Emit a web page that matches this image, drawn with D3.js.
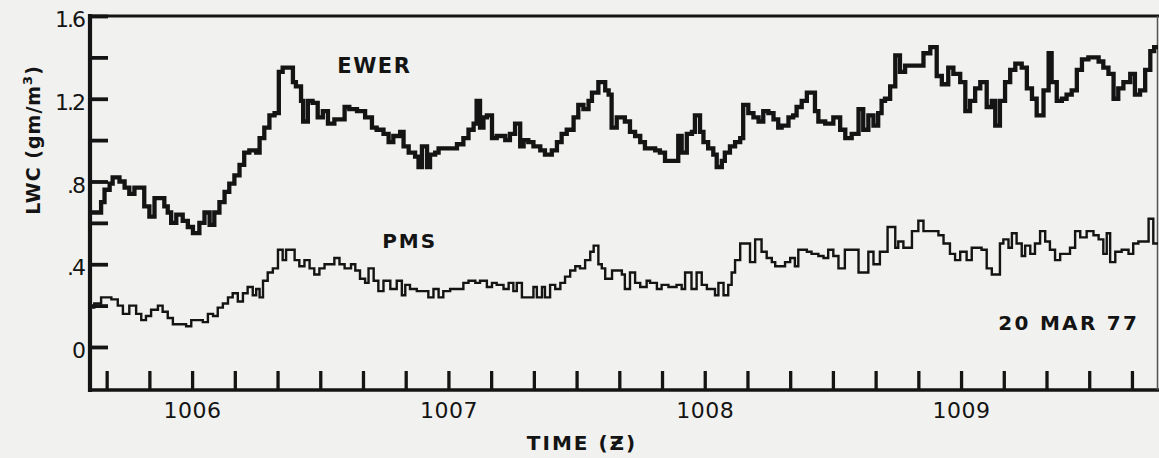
<!DOCTYPE html>
<html><head><meta charset="utf-8">
<script src="https://cdn.jsdelivr.net/npm/d3@7"></script>
<style>
html,body{margin:0;padding:0;background:#f1f1ef;}
svg{display:block;}
</style>
</head><body>
<svg id="chart" width="1159" height="458"></svg>
<script>
// time: seconds after 10:00:00 Z ; LWC in gm/m^3 (step series, value holds until next time)
const ewerTime = [336.0,338.7,339.5,340.7,341.4,343.0,344.2,345.3,346.5,348.8,350.0,351.2,353.5,354.3,355.1,356.3,357.8,359.0,360.2,361.7,362.9,364.1,365.2,366.4,367.6,368.7,369.9,371.1,372.2,373.4,375.0,375.8,376.9,378.1,379.3,380.3,381.2,383.6,384.3,385.5,386.0,387.1,388.2,389.4,390.6,391.8,393.3,395.7,396.8,
 398.6,400.5,402.1,403.2,404.8,406.0,407.1,408.7,409.5,410.7,412.2,413.0,413.8,415.0,415.7,416.9,417.7,422.0,423.5,424.7,425.9,426.6,427.4,428.2,429.0,430.2,431.3,433.3,434.4,435.6,436.8,437.6,438.7,439.9,441.5,442.6,444.2,445.4,446.5,447.7,449.3,450.4,451.6,452.8,453.6,455.1,456.7,457.5,458.2,459.4,
 461.3,462.5,463.7,464.9,466.0,468.4,469.5,470.7,473.8,474.6,475.8,477.0,477.7,478.9,479.7,480.8,482.0,482.8,484.0,484.7,485.9,487.1,488.3,489.0,490.2,491.4,492.6,493.7,494.9,496.1,497.2,498.0,499.6,500.7,501.5,502.7,503.9,505.8,506.6,508.2,510.1,511.7,512.9,514.4,516.0,517.1,518.3,519.5,520.6,521.4,
 522.2,523.4,524.6,525.7,526.9,531.2,532.8,534.3,535.5,537.0,538.2,539.8,541.0,542.1,543.3,544.5,546.0,547.2,548.0,549.1,550.3,551.5,552.7,554.2,555.4,556.6,557.7,559.3,560.5,561.2,562.4,563.6,564.7,565.9,567.1,568.3,569.8,572.2,573.3,574.5,575.7,576.8,578.0,579.6,580.7,581.9,583.1,584.3,585.2];
const ewerLWC = [0.65,0.70,0.76,0.79,0.82,0.80,0.77,0.74,0.77,0.68,0.63,0.72,0.68,0.65,0.60,0.64,0.61,0.58,0.55,0.60,0.65,0.59,0.65,0.70,0.75,0.79,0.83,0.88,0.94,0.95,0.94,1.01,1.06,1.12,1.13,1.33,1.35,1.28,1.26,1.19,1.09,1.19,1.18,1.11,1.14,1.08,1.10,1.16,1.15,
 1.14,1.11,1.06,1.05,1.03,0.99,1.02,1.04,0.97,0.94,0.92,0.87,0.97,0.87,0.93,0.94,0.96,0.98,1.01,1.05,1.08,1.19,1.06,1.11,1.12,1.01,1.02,1.00,1.03,1.08,0.97,1.00,0.99,0.97,0.95,0.93,0.95,0.99,1.03,1.05,1.11,1.17,1.15,1.19,1.23,1.28,1.24,1.22,1.06,1.11,
 1.09,1.04,1.02,0.99,0.96,0.95,0.94,0.90,1.02,0.94,1.03,1.04,1.12,1.04,0.99,0.96,0.93,0.87,0.90,0.94,0.97,0.99,1.01,1.17,1.13,1.11,1.09,1.14,1.13,1.10,1.06,1.07,1.11,1.12,1.16,1.19,1.23,1.14,1.09,1.08,1.11,1.05,1.01,1.03,1.15,1.05,1.12,1.07,1.13,1.19,
 1.20,1.26,1.41,1.33,1.36,1.42,1.45,1.31,1.27,1.35,1.32,1.28,1.14,1.19,1.25,1.28,1.16,1.19,1.07,1.19,1.28,1.34,1.37,1.35,1.25,1.20,1.12,1.24,1.42,1.28,1.19,1.20,1.22,1.24,1.34,1.39,1.40,1.38,1.35,1.32,1.20,1.25,1.28,1.32,1.22,1.24,1.34,1.43,1.45];

const pmsTime = [336.0,337.1,338.7,341.1,342.6,343.8,345.3,346.9,348.1,349.2,350.4,352.0,353.1,354.3,355.5,358.6,359.8,362.5,363.7,364.9,366.0,367.2,368.4,369.5,370.7,371.9,373.0,374.2,375.0,375.8,376.6,377.7,378.9,380.1,381.2,382.0,384.0,385.1,386.3,387.5,388.6,389.8,391.0,393.3,394.5,395.7,397.2,
 398.2,399.3,400.5,401.3,402.5,403.6,404.8,406.4,407.9,409.1,409.9,411.0,412.6,415.3,416.5,417.7,418.8,420.4,423.5,424.7,426.3,427.4,429.0,430.2,431.3,432.9,434.1,435.2,436.0,437.2,439.9,440.7,441.9,442.6,443.8,445.0,446.2,447.3,448.5,449.7,450.8,452.0,453.2,454.0,455.1,455.9,456.7,458.3,
 460.6,461.3,462.5,463.7,464.9,466.4,467.2,468.8,469.9,471.5,473.4,474.6,475.4,476.9,478.1,479.3,480.5,482.4,483.2,484.4,485.5,486.3,487.1,488.3,490.6,491.8,493.3,494.5,495.7,496.5,498.8,500.0,501.1,501.9,503.9,505.0,506.6,507.8,508.9,510.1,511.3,512.8,516.0,518.3,519.5,521.0,522.8,
 524.6,525.3,526.5,528.5,530.0,531.2,534.7,535.9,537.4,538.6,539.8,541.3,542.5,544.8,546.0,547.2,549.1,549.9,551.1,551.9,553.0,554.2,555.0,556.2,557.3,558.5,559.7,560.8,562.0,563.2,565.5,566.7,567.9,569.4,571.0,572.2,573.3,574.1,574.9,576.1,577.6,579.2,580.3,581.5,583.9,585.0];
const pmsLWC = [0.19,0.21,0.24,0.23,0.20,0.16,0.20,0.16,0.13,0.15,0.18,0.20,0.17,0.14,0.11,0.10,0.13,0.12,0.16,0.15,0.19,0.21,0.24,0.26,0.22,0.26,0.29,0.25,0.28,0.24,0.32,0.36,0.38,0.47,0.42,0.47,0.42,0.39,0.42,0.38,0.35,0.38,0.40,0.43,0.40,0.38,0.40,
 0.37,0.33,0.31,0.38,0.32,0.27,0.32,0.28,0.32,0.25,0.30,0.28,0.27,0.24,0.28,0.24,0.27,0.28,0.31,0.32,0.31,0.32,0.29,0.31,0.30,0.28,0.31,0.27,0.31,0.24,0.29,0.24,0.29,0.24,0.30,0.28,0.31,0.34,0.37,0.39,0.38,0.42,0.46,0.49,0.40,0.38,0.33,0.37,
 0.35,0.28,0.36,0.31,0.29,0.32,0.31,0.28,0.30,0.29,0.30,0.28,0.36,0.28,0.36,0.30,0.28,0.25,0.31,0.25,0.30,0.36,0.42,0.50,0.41,0.52,0.46,0.43,0.41,0.39,0.41,0.43,0.39,0.47,0.46,0.45,0.44,0.43,0.47,0.44,0.38,0.47,0.36,0.46,0.40,0.46,0.58,
 0.48,0.51,0.48,0.56,0.61,0.56,0.54,0.50,0.45,0.42,0.46,0.42,0.48,0.47,0.38,0.35,0.50,0.52,0.48,0.55,0.50,0.44,0.49,0.45,0.50,0.56,0.51,0.47,0.42,0.45,0.48,0.56,0.53,0.56,0.54,0.52,0.45,0.55,0.41,0.46,0.47,0.45,0.50,0.51,0.62,0.50];

const timeDomain = [336.1, 586.1];
const lwcDomain = [-0.208, 1.6];
const yTickValues = [0, 0.2, 0.4, 0.6, 0.8, 1.0, 1.2, 1.4, 1.6];
const yTickLabels = ["0", "", ".4", "", ".8", "", "1.2", "", "1.6"];
const xTickValues = [340,350,360,370,380,390,400,410,420,430,440,450,460,470,480,490,500,510,520,530,540,550,560,570,580];
const xLabelValues = [360, 420, 480, 540];
const xLabelTexts = ["1006", "1007", "1008", "1009"];

const ink = "#141414";
const svg = d3.select("#chart");
const L = 90, R = 1158, T = 16, B = 390;
const x = d3.scaleLinear().domain(timeDomain).range([L, R]);
const y = d3.scaleLinear().domain(lwcDomain).range([B, T]);
const sans = "DejaVu Sans, Verdana, sans-serif";

// axes
const yAxis = d3.axisLeft(y).tickValues(yTickValues).tickSizeInner(-18).tickSizeOuter(0).tickPadding(6)
  .tickFormat(d => yTickLabels[yTickValues.indexOf(d)]);
const gy = svg.append("g").attr("transform", `translate(${L},0)`).call(yAxis);
gy.select(".domain").remove();
gy.selectAll(".tick line").attr("stroke", ink).attr("stroke-width", 3.8);
gy.selectAll(".tick text").attr("fill", ink).attr("font-family", sans)
  .attr("font-size", 22).attr("dy", "0.48em").attr("letter-spacing", -2);

const xAxis = d3.axisBottom(x).tickValues(xTickValues).tickSizeInner(-19).tickSizeOuter(0).tickPadding(12)
  .tickFormat(d => { const i = xLabelValues.indexOf(d); return i >= 0 ? xLabelTexts[i] : ""; });
const gx = svg.append("g").attr("transform", `translate(0,${B})`).call(xAxis);
gx.select(".domain").remove();
gx.selectAll(".tick line").attr("stroke", ink).attr("stroke-width", 3.3);
gx.selectAll(".tick text").attr("fill", ink).attr("font-family", sans)
  .attr("font-size", 22).attr("letter-spacing", 0.5);

// frame
const frame = svg.append("g").attr("stroke", ink).attr("fill", "none");
frame.append("line").attr("x1", L).attr("x2", L).attr("y1", T - 2).attr("y2", B + 2).attr("stroke-width", 4.2);
frame.append("line").attr("x1", L - 2).attr("x2", 1159).attr("y1", B).attr("y2", B).attr("stroke-width", 3.6);
frame.append("line").attr("x1", L - 2).attr("x2", 1159).attr("y1", T).attr("y2", T).attr("stroke-width", 2.8);
frame.append("line").attr("x1", 1157.5).attr("x2", 1157.5).attr("y1", T).attr("y2", B).attr("stroke-width", 1.5).attr("stroke", "#555");

// step lines
function stepData(ts, vs) {
  const d = ts.map((t, i) => [t, vs[i]]);
  d.push([timeDomain[1], vs[vs.length - 1]]);
  return d;
}
const line = d3.line().x(d => x(d[0])).y(d => y(d[1])).curve(d3.curveStepAfter);
svg.append("path").datum(stepData(pmsTime, pmsLWC)).attr("d", line)
  .attr("fill", "none").attr("stroke", ink).attr("stroke-width", 2.4).attr("stroke-linejoin", "miter");
svg.append("path").datum(stepData(ewerTime, ewerLWC)).attr("d", line)
  .attr("fill", "none").attr("stroke", ink).attr("stroke-width", 4.3).attr("stroke-linejoin", "miter");

// annotations
svg.append("text").attr("x", x(394.0)).attr("y", y(1.325)).text("EWER")
  .attr("font-family", sans).attr("font-weight", "bold").attr("font-size", 21).attr("letter-spacing", 1.5).attr("fill", ink);
svg.append("text").attr("x", x(404.5)).attr("y", y(0.48)).text("PMS")
  .attr("font-family", sans).attr("font-weight", "bold").attr("font-size", 20).attr("letter-spacing", 2).attr("fill", ink);
svg.append("text").attr("x", x(548.7)).attr("y", y(0.082)).text("20 MAR 77")
  .attr("font-family", sans).attr("font-weight", "bold").attr("font-size", 20).attr("letter-spacing", 2.3).attr("fill", ink);

// axis titles
svg.append("text").attr("x", 582).attr("y", 450).attr("text-anchor", "middle")
  .attr("font-family", sans).attr("font-weight", "bold").attr("font-size", 20).attr("letter-spacing", 2).attr("fill", ink).text("TIME (Ƶ)");
const yt = svg.append("text").attr("transform", "translate(40,140) rotate(-90)").attr("text-anchor", "middle")
  .attr("font-family", sans).attr("font-weight", "bold").attr("font-size", 19).attr("letter-spacing", 1).attr("fill", ink);
yt.append("tspan").text("LWC (gm/m");
yt.append("tspan").text("3").attr("font-size", 13).attr("dy", -8);
yt.append("tspan").text(")").attr("dy", 8);
</script>
</body></html>
